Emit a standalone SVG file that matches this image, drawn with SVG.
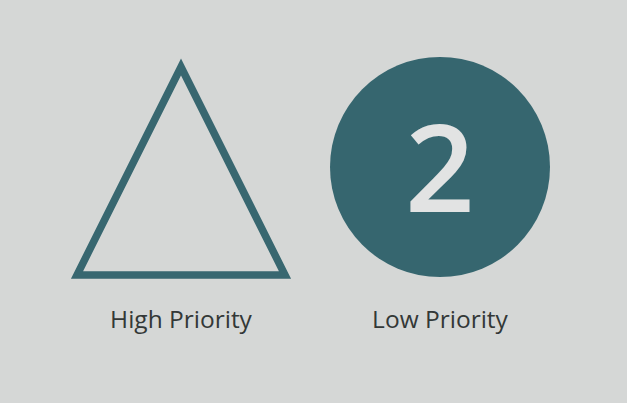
<svg xmlns="http://www.w3.org/2000/svg" width="627" height="403" viewBox="0 0 627 403">
<style>
.lbl{font-family:"Open Sans","Liberation Sans",sans-serif;font-size:24.5px;fill:#333837;text-anchor:middle}
.num{font-family:"Open Sans","Liberation Sans",sans-serif;font-size:122px;font-weight:600;fill:#e2e3e3;text-anchor:middle}
</style>
<rect width="627" height="403" fill="#d5d7d6"/>
<g id="high">
<polygon points="181,67 77,275 285,275" fill="none" stroke="#386770" stroke-width="7.5" stroke-linejoin="miter"/>
<text class="lbl" x="181" y="328">High Priority</text>
</g>
<g id="low">
<circle cx="440" cy="167" r="110" fill="#36666f"/>
<text class="num" x="440" y="212">2</text>
<text class="lbl" x="440" y="328">Low Priority</text>
</g>
<g id="connectors"/>
</svg>
